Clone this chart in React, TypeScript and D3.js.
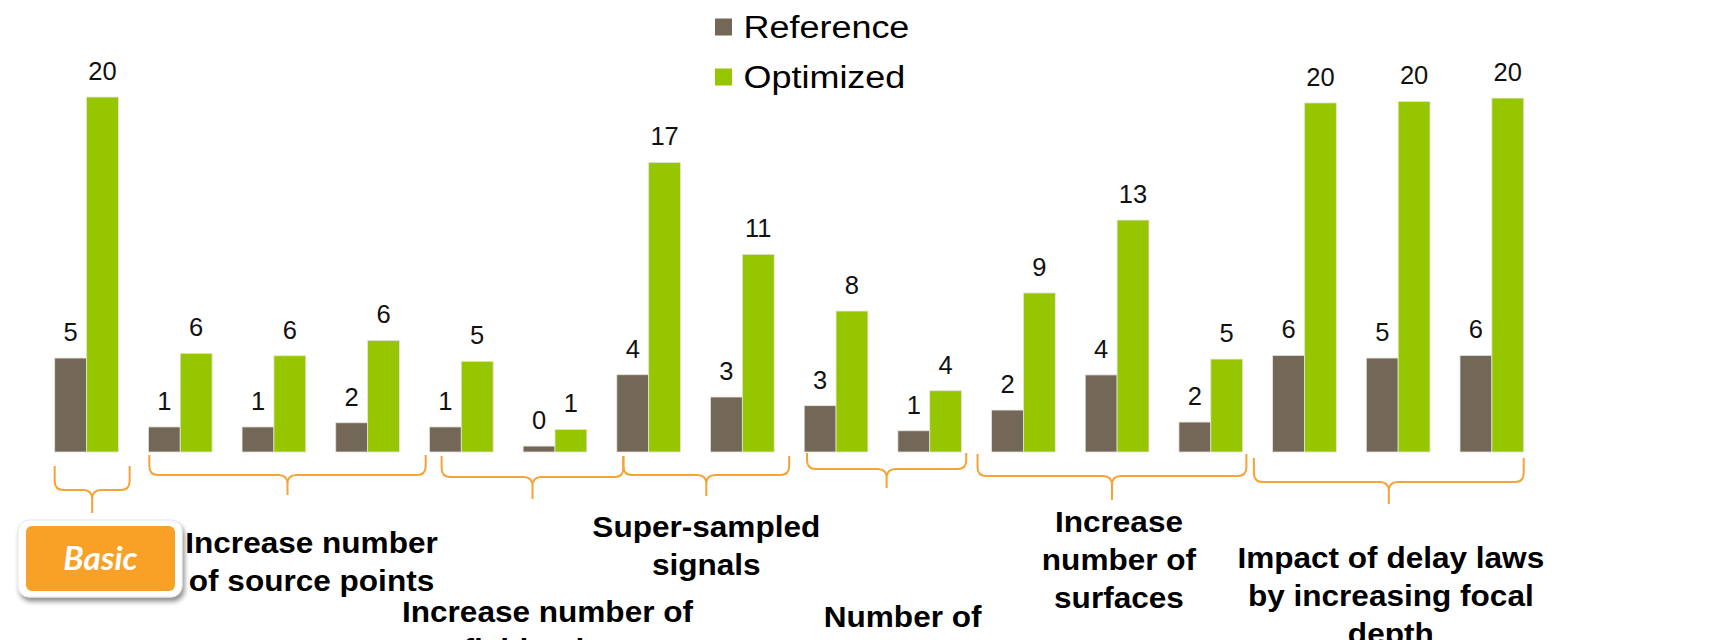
import { useEffect, useRef } from 'react'
import * as d3 from 'd3'

// Bars (one pair per configuration)
const CATEGORIES = [
  'Basic',
  'Source A', 'Source B', 'Source C',
  'Field A', 'Field B',
  'Sampling A', 'Sampling B',
  'Number A', 'Number B',
  'Surfaces A', 'Surfaces B', 'Surfaces C',
  'Focal A', 'Focal B', 'Focal C',
]
const SERIES = ['Reference', 'Optimized']
const REFERENCE_VALUES = [5.4, 1.44, 1.44, 1.68, 1.44, 0.34, 4.44, 3.16, 2.66, 1.22, 2.41, 4.43, 1.72, 5.55, 5.4, 5.55]
const OPTIMIZED_VALUES = [20.4, 5.67, 5.53, 6.41, 5.21, 1.3, 16.64, 11.36, 8.1, 3.52, 9.14, 13.33, 5.34, 20.06, 20.15, 20.34]

// Group annotations: span in band units, label lines
const GROUP_SPANS = [
  [0, 0.8], [1.01, 3.96], [4.13, 6.07], [6.07, 7.84], [8.03, 9.73], [9.85, 12.72], [12.8, 15.68],
]
const GROUP_LABELS = [
  [],
  ['Increase number', 'of source points'],
  ['Increase number of', 'field points'],
  ['Super-sampled', 'signals'],
  ['Number of'],
  ['Increase', 'number of', 'surfaces'],
  ['Impact of delay laws', 'by increasing focal', 'depth'],
]

const COLORS: Record<string, string> = {
  Reference: '#736757',
  Optimized: '#95c600',
}
const ORANGE = '#f7a235'
const FONT = '"Liberation Sans", Arial, sans-serif'

const WIDTH = 1724
const HEIGHT = 640

// brace layout: top of the arms, horizontal line, tip, label offset/baseline
const BRACE_LAYOUT = [
  { top: 466, mid: 490, tip: 513, dx: 0, y: 0 },
  { top: 455, mid: 475, tip: 495, dx: 24, y: 553 },
  { top: 456, mid: 477, tip: 499, dx: 15, y: 622 },
  { top: 456, mid: 475, tip: 496, dx: 0, y: 537 },
  { top: 453, mid: 469, tip: 488, dx: 16, y: 627 },
  { top: 454, mid: 476, tip: 500, dx: 7, y: 532 },
  { top: 458, mid: 482, tip: 504, dx: 2, y: 568 },
]

export default function App() {
  const svgRef = useRef<SVGSVGElement>(null)

  useEffect(() => {
    if (!svgRef.current) return
    const svg = d3.select(svgRef.current)
    svg.selectAll('*').remove()

    const baseline = 452
    const x = d3.scaleBand<string>()
      .domain(CATEGORIES)
      .range([39.7, 1538.7])
      .paddingInner(0.32)
      .paddingOuter(0.16)
    const xSub = d3.scaleBand<string>().domain(SERIES).range([0, x.bandwidth()])
    const y = d3.scaleLinear().domain([0, 20]).range([baseline, baseline - 348])

    const defs = svg.append('defs')
    const shadow = defs.append('filter').attr('id', 'shadow')
      .attr('x', '-20%').attr('y', '-20%').attr('width', '150%').attr('height', '160%')
    shadow.append('feDropShadow')
      .attr('dx', 2).attr('dy', 4).attr('stdDeviation', 2.5)
      .attr('flood-color', '#000').attr('flood-opacity', 0.45)

    const rows = CATEGORIES.map((c, i) => ({
      category: c,
      values: [
        { key: 'Reference', value: REFERENCE_VALUES[i] },
        { key: 'Optimized', value: OPTIMIZED_VALUES[i] },
      ],
    }))

    // Bars
    const groups = svg.append('g').attr('class', 'bars')
      .selectAll('g')
      .data(rows)
      .join('g')
      .attr('transform', d => `translate(${x(d.category)},0)`)

    groups.selectAll('rect')
      .data(d => d.values)
      .join('rect')
      .attr('x', d => xSub(d.key)!)
      .attr('y', d => y(d.value))
      .attr('width', xSub.bandwidth())
      .attr('height', d => baseline - y(d.value))
      .attr('fill', d => COLORS[d.key])
      .attr('stroke', '#e4e4dc')
      .attr('stroke-width', 0.8)

    groups.selectAll('text')
      .data(d => d.values)
      .join('text')
      .attr('x', d => xSub(d.key)! + xSub.bandwidth() / 2)
      .attr('y', d => y(d.value) - 17)
      .attr('text-anchor', 'middle')
      .attr('font-family', FONT)
      .attr('font-size', 25.5)
      .attr('fill', '#111')
      .text(d => d3.format('.0f')(d.value))

    // Legend
    const legend = svg.append('g').attr('transform', 'translate(715,0)')
    SERIES.forEach((s, i) => {
      const row = legend.append('g').attr('transform', `translate(0,${i * 50})`)
      row.append('rect')
        .attr('x', 0).attr('y', 18.5)
        .attr('width', 17).attr('height', 17)
        .attr('fill', COLORS[s])
      row.append('text')
        .attr('transform', 'translate(28.5,38.3) scale(1.16,1)')
        .attr('font-family', FONT)
        .attr('font-size', 31)
        .attr('fill', '#000')
        .text(s)
    })

    // Braces under groups
    const step = x.step()
    const x0 = x(CATEGORIES[0])!
    const ux = (u: number) => x0 + u * step

    const braces = svg.append('g').attr('class', 'braces')
    GROUP_SPANS.forEach(([a, b], i) => {
      const L = BRACE_LAYOUT[i]
      const xa = ux(a)
      const xb = ux(b)
      const xm = (xa + xb) / 2
      const r = 9
      const p = d3.path()
      p.moveTo(xa, L.top)
      p.lineTo(xa, L.mid - r)
      p.quadraticCurveTo(xa, L.mid, xa + r, L.mid)
      p.lineTo(xm - r, L.mid)
      p.quadraticCurveTo(xm, L.mid, xm, L.mid + r)
      p.lineTo(xm, L.tip)
      p.moveTo(xm, L.mid + r)
      p.quadraticCurveTo(xm, L.mid, xm + r, L.mid)
      p.lineTo(xb - r, L.mid)
      p.quadraticCurveTo(xb, L.mid, xb, L.mid - r)
      p.lineTo(xb, L.top)
      braces.append('path')
        .attr('d', p.toString())
        .attr('fill', 'none')
        .attr('stroke', ORANGE)
        .attr('stroke-width', 2)

      // group label
      GROUP_LABELS[i].forEach((line, j) => {
        svg.append('text')
          .attr('transform', `translate(${xm + L.dx},${L.y + j * 37.8}) scale(1.07,1)`)
          .attr('text-anchor', 'middle')
          .attr('font-family', FONT)
          .attr('font-weight', 'bold')
          .attr('font-size', 29.5)
          .attr('fill', '#000')
          .text(line)
      })
    })

    // "Basic" badge
    const badge = svg.append('g').attr('transform', 'translate(18,520)')
    badge.append('rect')
      .attr('width', 164).attr('height', 77).attr('rx', 11)
      .attr('fill', '#fff')
      .attr('stroke', '#e6e6e6')
      .attr('filter', 'url(#shadow)')
    badge.append('rect')
      .attr('x', 8).attr('y', 6)
      .attr('width', 149).attr('height', 65).attr('rx', 6)
      .attr('fill', '#f9a126')
    badge.append('text')
      .attr('transform', 'translate(82.5,49.5) scale(1.04,1)')
      .attr('text-anchor', 'middle')
      .attr('font-family', 'Lato, "Open Sans", sans-serif')
      .attr('font-style', 'italic')
      .attr('font-weight', 'bold')
      .attr('font-size', 32)
      .attr('fill', '#fff')
      .text('Basic')
  }, [])

  return (
    <div style={{ position: 'fixed', left: 0, top: 0, width: WIDTH, height: HEIGHT, overflow: 'hidden', background: '#fff' }}>
      <svg ref={svgRef} width={WIDTH} height={HEIGHT} />
    </div>
  )
}
